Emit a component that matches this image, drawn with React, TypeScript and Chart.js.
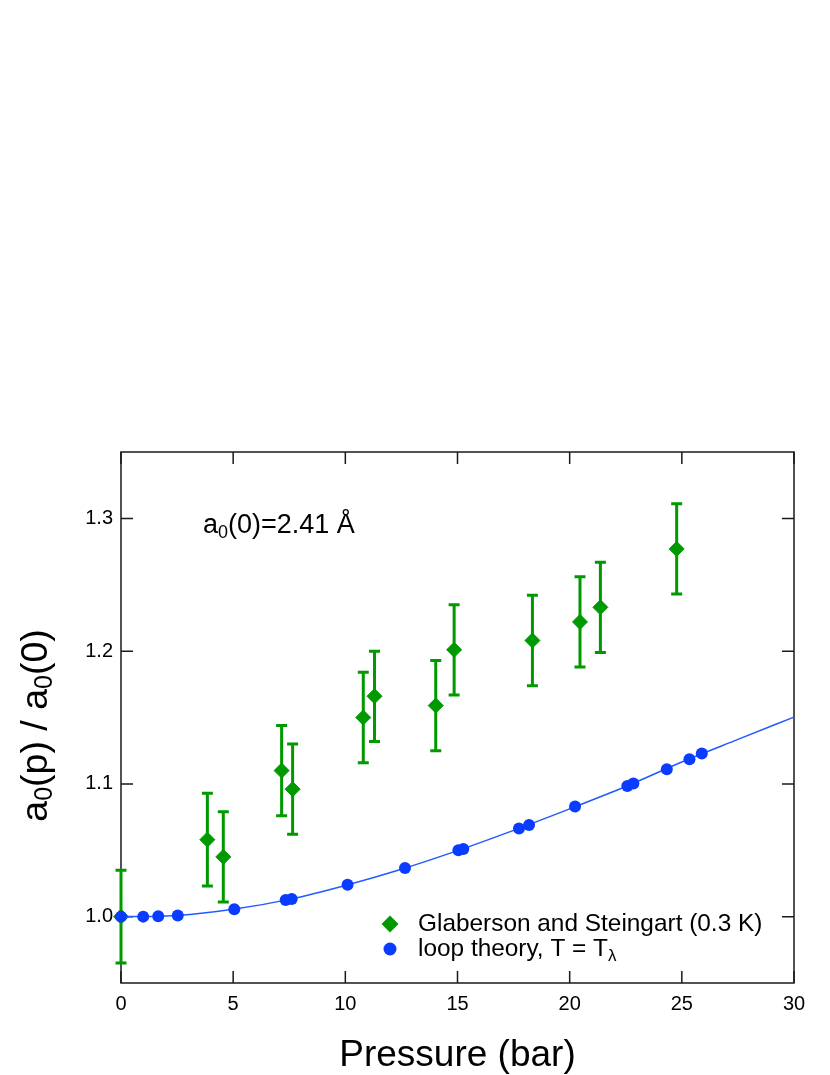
import React, { useEffect, useRef } from "react";
import { Chart, registerables } from "chart.js";

Chart.register(...registerables);

// ---- data ----
const xTicks = [0, 5, 10, 15, 20, 25, 30];
const yTicks = [1.0, 1.1, 1.2, 1.3];

// Glaberson and Steingart (0.3 K)
const greenX = [0, 3.85, 4.56, 7.16, 7.65, 10.8, 11.3, 14.03, 14.85, 18.34, 20.46, 21.37, 24.77];
const greenY = [1.0, 1.058, 1.045, 1.11, 1.096, 1.15, 1.166, 1.159, 1.201, 1.208, 1.222, 1.233, 1.277];
const greenErr = [0.035, 0.035, 0.034, 0.034, 0.034, 0.034, 0.034, 0.034, 0.034, 0.034, 0.034, 0.034, 0.034];

// loop theory, T = T_lambda (points)
const blueX = [0, 0.99, 1.66, 2.53, 5.05, 7.34, 7.61, 10.1, 12.66, 15.04, 15.26, 17.74, 18.19, 20.24, 22.57, 22.84, 24.33, 25.34, 25.89];
const blueY = [1.0, 1.0, 1.0002, 1.0008, 1.0055, 1.0125, 1.0133, 1.024, 1.0366, 1.05, 1.0509, 1.0664, 1.0691, 1.0829, 1.0984, 1.1002, 1.111, 1.1185, 1.1228];

// loop theory curve
const curveX = [0, 1, 2.5, 5, 7.5, 10, 12.5, 15, 17.5, 20, 22.5, 25, 27.5, 30];
const curveY = [1.0, 1.0001, 1.0008, 1.0055, 1.013, 1.0235, 1.0357, 1.0497, 1.065, 1.0812, 1.098, 1.1165, 1.1335, 1.1503];

const legendLabels = ["Glaberson and Steingart (0.3 K)", "loop theory, T = T"];

const FONT = "'Liberation Sans', Arial, Helvetica, sans-serif";
const GREEN = "#009900";
const BLUE = "#0a3cff";
const LINE_BLUE = "#1f5bff";

type Part = { text: string; size: number; dy?: number };

function partsWidth(ctx: CanvasRenderingContext2D, parts: Part[]) {
  let w = 0;
  for (const p of parts) {
    ctx.font = `${p.size}px ${FONT}`;
    w += ctx.measureText(p.text).width;
  }
  return w;
}

function drawParts(ctx: CanvasRenderingContext2D, parts: Part[], x: number, y: number, align: "left" | "center") {
  let cx = align === "center" ? x - partsWidth(ctx, parts) / 2 : x;
  ctx.textAlign = "left";
  ctx.textBaseline = "alphabetic";
  for (const p of parts) {
    ctx.font = `${p.size}px ${FONT}`;
    ctx.fillText(p.text, cx, y + (p.dy || 0));
    cx += ctx.measureText(p.text).width;
  }
}

function diamond(ctx: CanvasRenderingContext2D, x: number, y: number, r: number) {
  ctx.beginPath();
  ctx.moveTo(x - r, y);
  ctx.lineTo(x, y - r);
  ctx.lineTo(x + r, y);
  ctx.lineTo(x, y + r);
  ctx.closePath();
  ctx.fill();
}

const decorPlugin = {
  id: "decor",
  beforeDatasetsDraw(chart: any) {
    const ctx = chart.ctx as CanvasRenderingContext2D;
    const { left, right, top, bottom } = chart.chartArea;
    const xs = chart.scales.x;
    const ys = chart.scales.y;
    ctx.save();
    // frame
    ctx.strokeStyle = "#1a1a1a";
    ctx.lineWidth = 1.5;
    ctx.strokeRect(left, top, right - left, bottom - top);
    // inward ticks
    const tl = 12;
    ctx.beginPath();
    for (const v of xTicks) {
      const px = xs.getPixelForValue(v);
      ctx.moveTo(px, bottom);
      ctx.lineTo(px, bottom - tl);
      ctx.moveTo(px, top);
      ctx.lineTo(px, top + tl);
    }
    for (const v of yTicks) {
      const py = ys.getPixelForValue(v);
      ctx.moveTo(left, py);
      ctx.lineTo(left + tl, py);
      ctx.moveTo(right, py);
      ctx.lineTo(right - tl, py);
    }
    ctx.stroke();
    // error bars
    ctx.strokeStyle = GREEN;
    ctx.lineWidth = 3;
    ctx.lineCap = "butt";
    const cap = 5.5;
    for (let i = 0; i < greenX.length; i++) {
      const px = xs.getPixelForValue(greenX[i]);
      const pt = ys.getPixelForValue(greenY[i] + greenErr[i]);
      const pb = ys.getPixelForValue(greenY[i] - greenErr[i]);
      ctx.beginPath();
      ctx.moveTo(px, pt);
      ctx.lineTo(px, pb);
      ctx.moveTo(px - cap, pt);
      ctx.lineTo(px + cap, pt);
      ctx.moveTo(px - cap, pb);
      ctx.lineTo(px + cap, pb);
      ctx.stroke();
    }
    ctx.restore();
  },
  afterDraw(chart: any) {
    const ctx = chart.ctx as CanvasRenderingContext2D;
    const { left, right, top, bottom } = chart.chartArea;
    ctx.save();
    ctx.fillStyle = "#000";
    // annotation
    drawParts(
      ctx,
      [
        { text: "a", size: 27 },
        { text: "0", size: 18, dy: 5 },
        { text: "(0)=2.41 Å", size: 27 },
      ],
      left + 82,
      top + 81,
      "left"
    );
    // legend
    ctx.fillStyle = GREEN;
    diamond(ctx, left + 269, top + 472, 8.5);
    ctx.fillStyle = BLUE;
    ctx.beginPath();
    ctx.arc(left + 269, top + 497, 6.5, 0, Math.PI * 2);
    ctx.fill();
    ctx.fillStyle = "#000";
    drawParts(ctx, [{ text: legendLabels[0], size: 24.4 }], left + 297, top + 479, "left");
    drawParts(
      ctx,
      [
        { text: legendLabels[1], size: 24.4 },
        { text: "λ", size: 17, dy: 5 },
      ],
      left + 297,
      top + 504,
      "left"
    );
    // x title
    drawParts(ctx, [{ text: "Pressure (bar)", size: 37 }], (left + right) / 2, 1066, "center");
    // y title
    ctx.translate(47, (top + bottom) / 2 + 8);
    ctx.rotate(-Math.PI / 2);
    drawParts(
      ctx,
      [
        { text: "a", size: 37.5 },
        { text: "0", size: 25, dy: 5 },
        { text: "(p) / a", size: 37.5 },
        { text: "0", size: 25, dy: 5 },
        { text: "(0)", size: 37.5 },
      ],
      0,
      0,
      "center"
    );
    ctx.restore();
  },
};

export default function App() {
  const ref = useRef<HTMLCanvasElement | null>(null);
  useEffect(() => {
    document.body.style.margin = "0";
    const canvas = ref.current!;
    const chart = new Chart(canvas, {
      type: "scatter",
      data: {
        datasets: [
          {
            label: "loop theory points",
            data: blueX.map((x, i) => ({ x, y: blueY[i] })),
            pointStyle: "circle",
            pointRadius: 6,
            pointBackgroundColor: BLUE,
            pointBorderColor: BLUE,
            pointBorderWidth: 0,
            showLine: false,
            clip: false,
          } as any,
          {
            label: "loop theory curve",
            type: "line",
            data: curveX.map((x, i) => ({ x, y: curveY[i] })),
            borderColor: LINE_BLUE,
            borderWidth: 1.5,
            pointRadius: 0,
            cubicInterpolationMode: "monotone",
            fill: false,
            clip: false,
          } as any,
          {
            label: "Glaberson and Steingart (0.3 K)",
            data: greenX.map((x, i) => ({ x, y: greenY[i] })),
            pointStyle: "rectRot",
            pointRadius: 7.5,
            pointBackgroundColor: GREEN,
            pointBorderColor: GREEN,
            pointBorderWidth: 1,
            showLine: false,
            clip: false,
          } as any,
        ],
      },
      options: {
        responsive: false,
        animation: false,
        devicePixelRatio: 1,
        layout: { padding: { left: 0, right: 36, top: 452, bottom: 0 } },
        plugins: { legend: { display: false }, tooltip: { enabled: false } },
        scales: {
          x: {
            type: "linear",
            min: 0,
            max: 30,
            afterBuildTicks: (s: any) => {
              s.ticks = xTicks.map((v) => ({ value: v }));
            },
            afterFit: (s: any) => {
              s.height = 92;
            },
            grid: { display: false, drawTicks: false },
            border: { display: false },
            ticks: {
              color: "#000",
              font: { family: FONT, size: 20 },
              padding: 9,
              maxRotation: 0,
              autoSkip: false,
              callback: (v: any) => String(v),
            },
          },
          y: {
            type: "linear",
            min: 0.95,
            max: 1.35,
            afterBuildTicks: (s: any) => {
              s.ticks = yTicks.map((v) => ({ value: v }));
            },
            afterFit: (s: any) => {
              s.width = 121;
            },
            grid: { display: false, drawTicks: false },
            border: { display: false },
            ticks: {
              color: "#000",
              font: { family: FONT, size: 20 },
              padding: 8,
              autoSkip: false,
              callback: (v: any) => Number(v).toFixed(1),
            },
          },
        },
      },
      plugins: [decorPlugin],
    });
    return () => chart.destroy();
  }, []);
  return (
    <div style={{ width: 830, height: 1075, background: "#fff" }}>
      <canvas ref={ref} width={830} height={1075} style={{ width: 830, height: 1075, display: "block" }} />
    </div>
  );
}
